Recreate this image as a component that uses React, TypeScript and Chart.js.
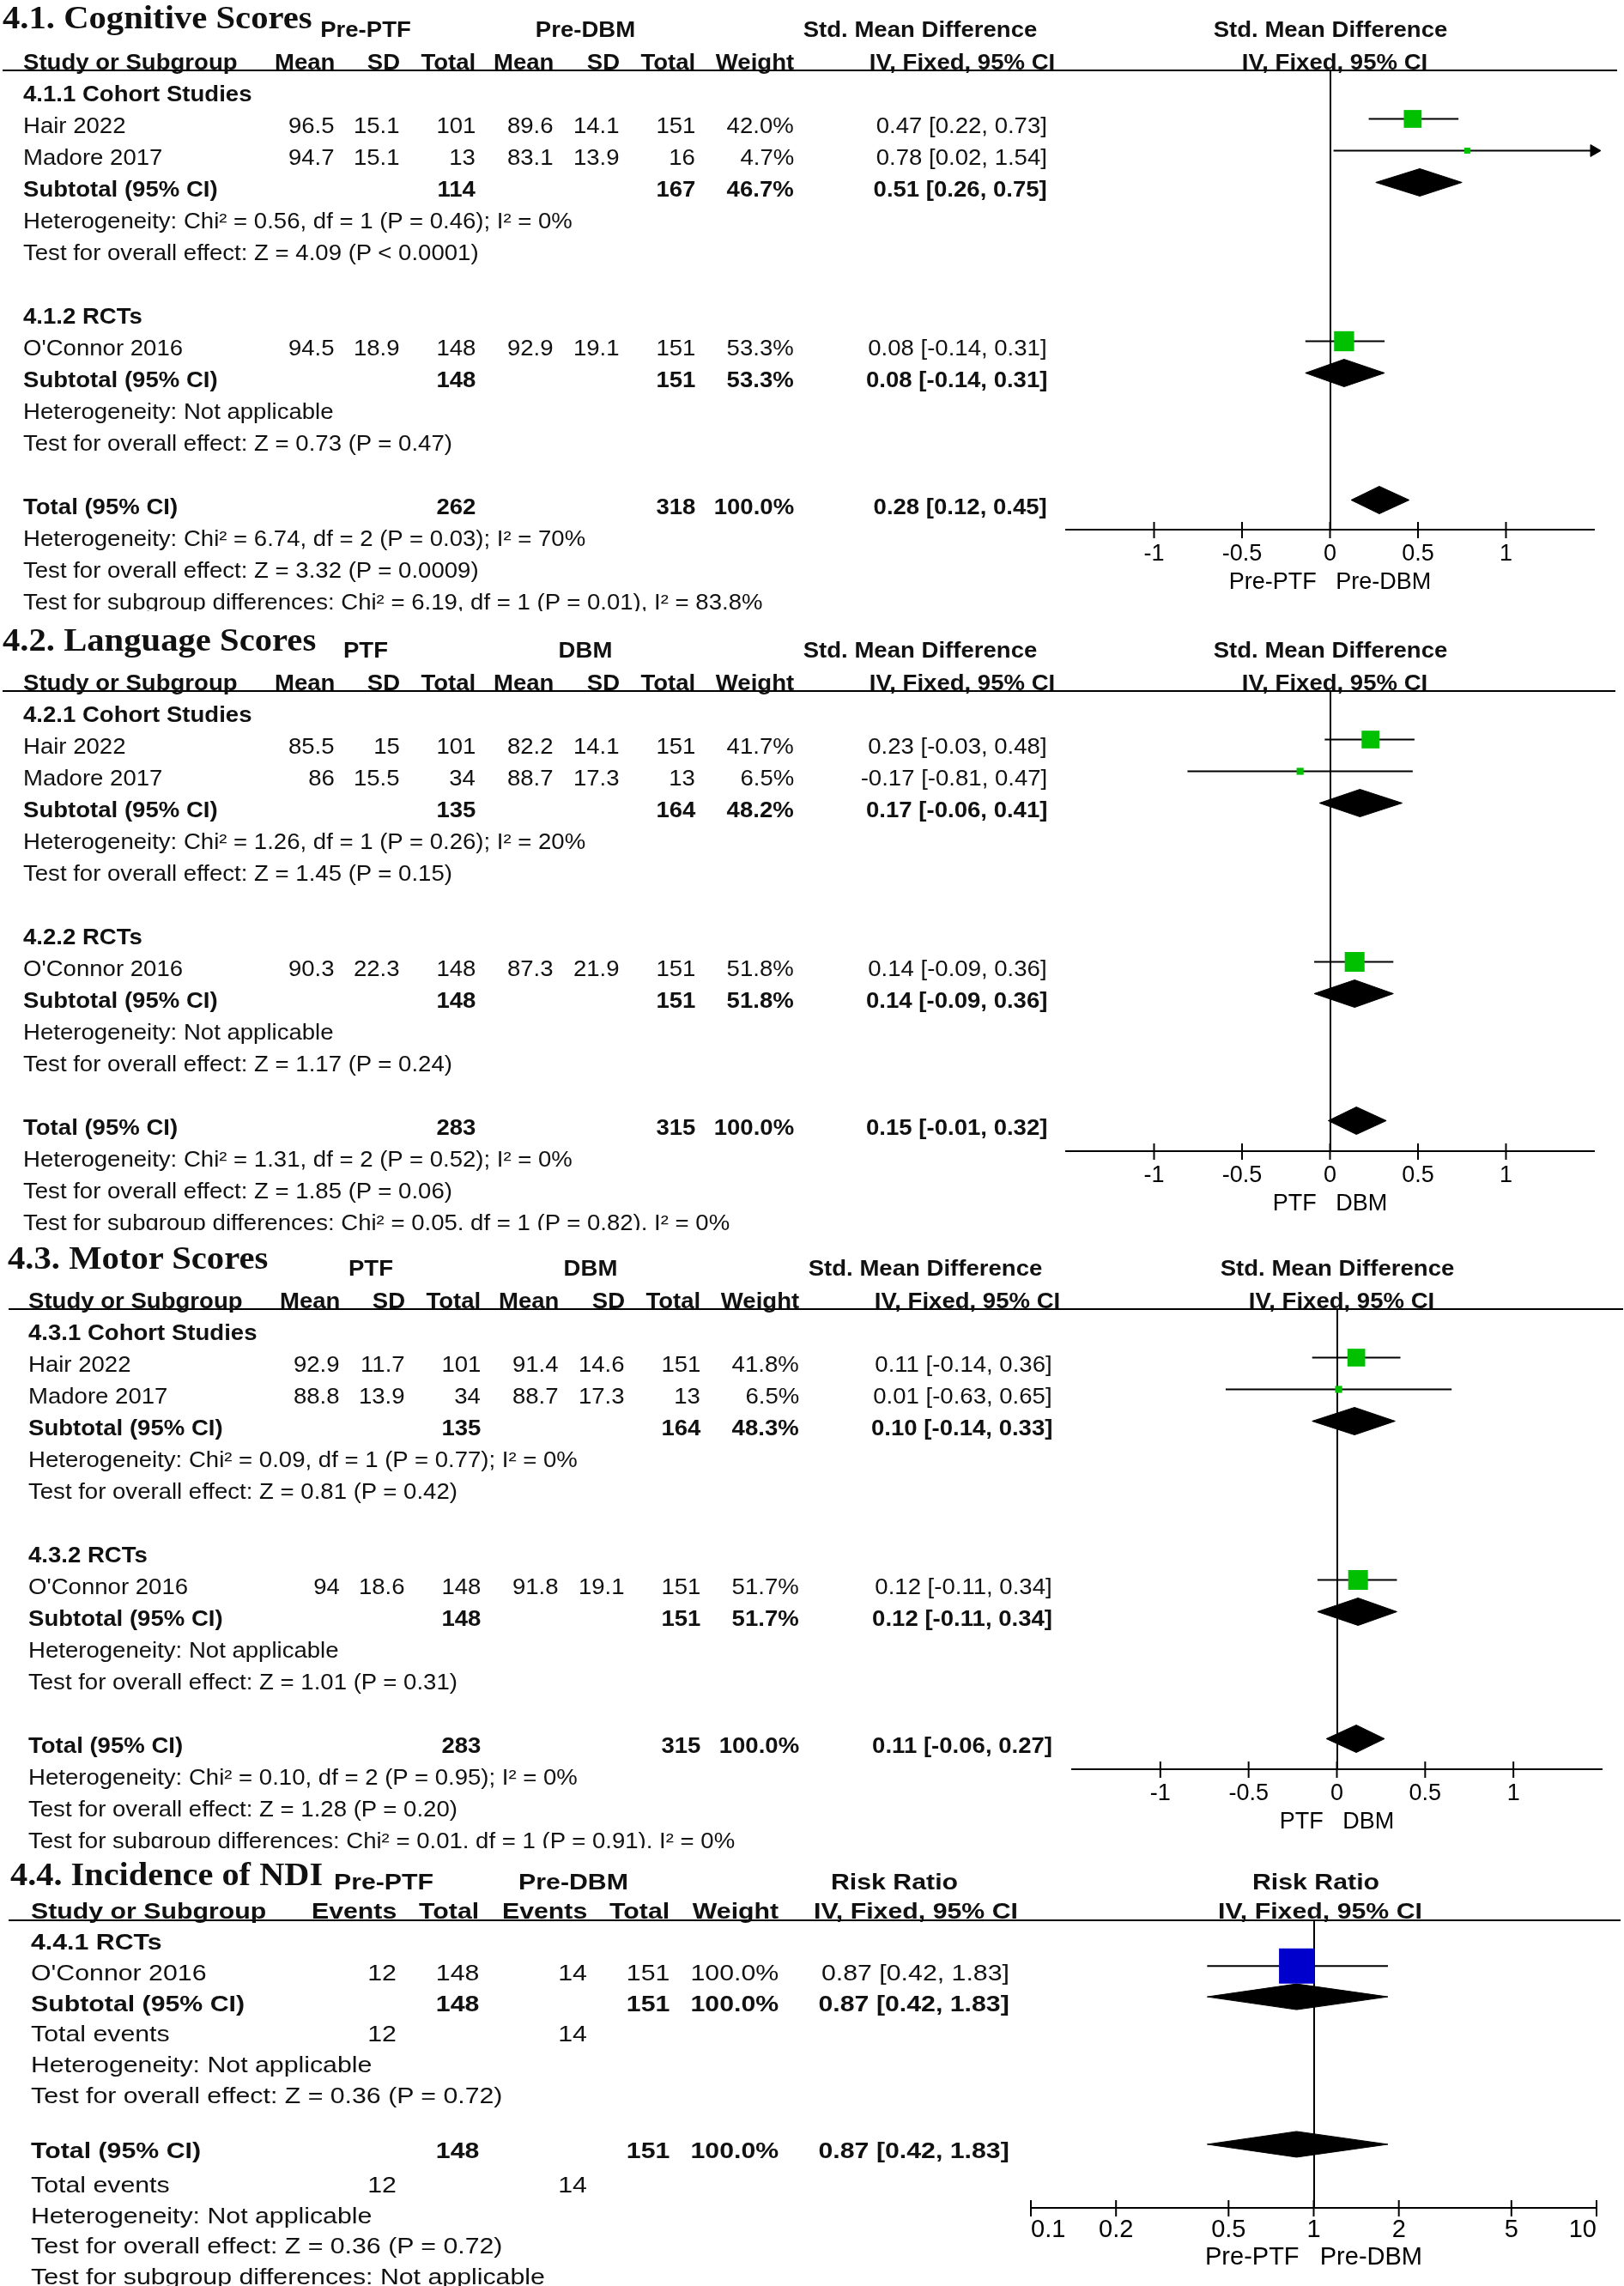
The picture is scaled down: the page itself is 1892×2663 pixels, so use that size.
import React, { useEffect, useRef } from "react";
import { Chart, registerables } from "chart.js";

Chart.register(...registerables);

const PAGE_W = 1892;
const PAGE_H = 2663;
const SANS = '"Liberation Sans", Arial, Helvetica, sans-serif';
const SERIF = '"Liberation Serif", "Times New Roman", Times, serif';
const INK = "#111111";
const GREEN = "#00C000";
const BLUE = "#0000CC";

// ---------------- axis ticks ----------------
const SMD_TICKS = [-1, -0.5, 0, 0.5, 1];
const SMD_RANGE = [-1.5, 1.5];
const RR_TICKS = [0.1, 0.2, 0.5, 1, 2, 5, 10];
const RR_RANGE = [0.1, 10];

// ---------------- 4.1 Cognitive Scores ----------------
const COG_STUDIES = ["Hair 2022", "Madore 2017", "O'Connor 2016"];
const COG_PTF_MEAN = [96.5, 94.7, 94.5];
const COG_PTF_SD = [15.1, 15.1, 18.9];
const COG_PTF_TOTAL = [101, 13, 148];
const COG_DBM_MEAN = [89.6, 83.1, 92.9];
const COG_DBM_SD = [14.1, 13.9, 19.1];
const COG_DBM_TOTAL = [151, 16, 151];
const COG_WEIGHT = [42.0, 4.7, 53.3];
const COG_SMD = [0.47, 0.78, 0.08];
const COG_LOW = [0.22, 0.02, -0.14];
const COG_HIGH = [0.73, 1.54, 0.31];
const COG_SUB_PTF = [114, 148];
const COG_SUB_DBM = [167, 151];
const COG_SUB_WEIGHT = [46.7, 53.3];
const COG_SUB_SMD = [0.51, 0.08];
const COG_SUB_LOW = [0.26, -0.14];
const COG_SUB_HIGH = [0.75, 0.31];
const COG_TOTAL_N = [262, 318];
const COG_TOTAL_WEIGHT = 100.0;
const COG_TOTAL_SMD = [0.28, 0.12, 0.45];
const COG_HET = [
  "Heterogeneity: Chi² = 0.56, df = 1 (P = 0.46); I² = 0%",
  "Heterogeneity: Not applicable",
  "Heterogeneity: Chi² = 6.74, df = 2 (P = 0.03); I² = 70%",
];
const COG_TEST = [
  "Test for overall effect: Z = 4.09 (P < 0.0001)",
  "Test for overall effect: Z = 0.73 (P = 0.47)",
  "Test for overall effect: Z = 3.32 (P = 0.0009)",
];
const COG_SUBGROUP = "Test for subgroup differences: Chi² = 6.19, df = 1 (P = 0.01), I² = 83.8%";

// ---------------- 4.2 Language Scores ----------------
const LANG_STUDIES = ["Hair 2022", "Madore 2017", "O'Connor 2016"];
const LANG_PTF_MEAN = [85.5, 86, 90.3];
const LANG_PTF_SD = [15, 15.5, 22.3];
const LANG_PTF_TOTAL = [101, 34, 148];
const LANG_DBM_MEAN = [82.2, 88.7, 87.3];
const LANG_DBM_SD = [14.1, 17.3, 21.9];
const LANG_DBM_TOTAL = [151, 13, 151];
const LANG_WEIGHT = [41.7, 6.5, 51.8];
const LANG_SMD = [0.23, -0.17, 0.14];
const LANG_LOW = [-0.03, -0.81, -0.09];
const LANG_HIGH = [0.48, 0.47, 0.36];
const LANG_SUB_PTF = [135, 148];
const LANG_SUB_DBM = [164, 151];
const LANG_SUB_WEIGHT = [48.2, 51.8];
const LANG_SUB_SMD = [0.17, 0.14];
const LANG_SUB_LOW = [-0.06, -0.09];
const LANG_SUB_HIGH = [0.41, 0.36];
const LANG_TOTAL_N = [283, 315];
const LANG_TOTAL_WEIGHT = 100.0;
const LANG_TOTAL_SMD = [0.15, -0.01, 0.32];
const LANG_HET = [
  "Heterogeneity: Chi² = 1.26, df = 1 (P = 0.26); I² = 20%",
  "Heterogeneity: Not applicable",
  "Heterogeneity: Chi² = 1.31, df = 2 (P = 0.52); I² = 0%",
];
const LANG_TEST = [
  "Test for overall effect: Z = 1.45 (P = 0.15)",
  "Test for overall effect: Z = 1.17 (P = 0.24)",
  "Test for overall effect: Z = 1.85 (P = 0.06)",
];
const LANG_SUBGROUP = "Test for subgroup differences: Chi² = 0.05, df = 1 (P = 0.82), I² = 0%";

// ---------------- 4.3 Motor Scores ----------------
const MOT_STUDIES = ["Hair 2022", "Madore 2017", "O'Connor 2016"];
const MOT_PTF_MEAN = [92.9, 88.8, 94];
const MOT_PTF_SD = [11.7, 13.9, 18.6];
const MOT_PTF_TOTAL = [101, 34, 148];
const MOT_DBM_MEAN = [91.4, 88.7, 91.8];
const MOT_DBM_SD = [14.6, 17.3, 19.1];
const MOT_DBM_TOTAL = [151, 13, 151];
const MOT_WEIGHT = [41.8, 6.5, 51.7];
const MOT_SMD = [0.11, 0.01, 0.12];
const MOT_LOW = [-0.14, -0.63, -0.11];
const MOT_HIGH = [0.36, 0.65, 0.34];
const MOT_SUB_PTF = [135, 148];
const MOT_SUB_DBM = [164, 151];
const MOT_SUB_WEIGHT = [48.3, 51.7];
const MOT_SUB_SMD = [0.10, 0.12];
const MOT_SUB_LOW = [-0.14, -0.11];
const MOT_SUB_HIGH = [0.33, 0.34];
const MOT_TOTAL_N = [283, 315];
const MOT_TOTAL_WEIGHT = 100.0;
const MOT_TOTAL_SMD = [0.11, -0.06, 0.27];
const MOT_HET = [
  "Heterogeneity: Chi² = 0.09, df = 1 (P = 0.77); I² = 0%",
  "Heterogeneity: Not applicable",
  "Heterogeneity: Chi² = 0.10, df = 2 (P = 0.95); I² = 0%",
];
const MOT_TEST = [
  "Test for overall effect: Z = 0.81 (P = 0.42)",
  "Test for overall effect: Z = 1.01 (P = 0.31)",
  "Test for overall effect: Z = 1.28 (P = 0.20)",
];
const MOT_SUBGROUP = "Test for subgroup differences: Chi² = 0.01, df = 1 (P = 0.91), I² = 0%";

// ---------------- 4.4 Incidence of NDI ----------------
const NDI_STUDIES = ["O'Connor 2016"];
const NDI_PTF_EVENTS = [12];
const NDI_PTF_TOTAL = [148];
const NDI_DBM_EVENTS = [14];
const NDI_DBM_TOTAL = [151];
const NDI_WEIGHT = [100.0];
const NDI_RR = [0.87];
const NDI_LOW = [0.42];
const NDI_HIGH = [1.83];
const NDI_SUB_N = [148, 151];
const NDI_SUB_EVENTS = [12, 14];
const NDI_SUB_WEIGHT = 100.0;
const NDI_SUB_RR = [0.87, 0.42, 1.83];
const NDI_TOTAL_N = [148, 151];
const NDI_TOTAL_EVENTS = [12, 14];
const NDI_TOTAL_WEIGHT = 100.0;
const NDI_TOTAL_RR = [0.87, 0.42, 1.83];
const NDI_HET = ["Heterogeneity: Not applicable", "Heterogeneity: Not applicable"];
const NDI_TEST = [
  "Test for overall effect: Z = 0.36 (P = 0.72)",
  "Test for overall effect: Z = 0.36 (P = 0.72)",
];
const NDI_SUBGROUP = "Test for subgroup differences: Not applicable";

// ---------------- row layout (slot indices) ----------------
const SMD_SECTION_ROWS = [0, 7];
const SMD_STUDY_ROWS = [1, 2, 8];
const SMD_SUB_ROWS = [3, 9];
const SMD_HET_ROWS = [4, 10, 14];
const SMD_TEST_ROWS = [5, 11, 15];
const SMD_TOTAL_ROW = 13;
const SMD_SUBGROUP_ROW = 16;

const RR_SECTION_ROW = 0;
const RR_STUDY_ROWS = [1];
const RR_SUB_ROW = 2;
const RR_EVENTS_ROWS = [3, 7.9];
const RR_HET_ROWS = [4, 8.9];
const RR_TEST_ROWS = [5, 9.9];
const RR_TOTAL_ROW = 6.8;
const RR_SUBGROUP_ROW = 10.9;

// column x positions
const SMD_COLS = { name: 27, m1: 390, sd1: 466, n1: 554, m2: 645, sd2: 722, n2: 810, w: 925, ci: 1220, ciHead: 1121, gA: 426, gB: 682, gEff: 1072 };
const RR_COLS = { name: 36, ev1: 462, n1: 558, ev2: 684, n2: 780, w: 907, ci: 1176, ciHead: 1067, gA: 447, gB: 668, gEff: 1042 };

type Align = "left" | "right" | "center";
interface TextItem { x: number; y: number; text: string; align: Align; bold?: boolean; size: number; sx?: number; serif?: boolean }

interface Layout {
  origin: number; clipTop: number; clipBottom: number; dx: number;
  titleY: number; groupY: number; headY: number; lineY: number; lineX0: number; lineX1: number;
  textY0: number; rowH: number; markY0: number;
  chartLeft: number; chartRight: number; chartTop: number; chartBottom: number; canvasH: number;
  font: number; sx: number;
}

const smdLayout = (origin: number, clipTop: number, clipBottom: number, dx: number, titleY: number, chartBottom: number, lineX0: number, lineX1: number): Layout => ({
  origin, clipTop, clipBottom, dx, titleY, groupY: 37, headY: 75, lineY: 85, lineX0, lineX1,
  textY0: 112, rowH: 37, markY0: 104.5,
  chartLeft: 1242 + (dx > 0 ? 7 : 0), chartRight: 1857 + (dx > 0 ? 9 : 0), chartTop: 85, chartBottom, canvasH: 720,
  font: 26, sx: 1.06,
});

const L1 = smdLayout(-3, 0, 712, 0, 22.5, 620, 3, 1884);
const L2 = smdLayout(720, 712, 1433, 0, 25, 621, 3, 1882);
const L3 = smdLayout(1440, 1433, 2153, 6, 25, 621, 10, 1891);
const L4: Layout = {
  origin: 2150, clipTop: 2153, clipBottom: PAGE_H, dx: 0,
  titleY: 33, groupY: 42, headY: 76, lineY: 87, lineX0: 10, lineX1: 1888,
  textY0: 112, rowH: 35.8, markY0: 104.5,
  chartLeft: 1201, chartRight: 1860, chartTop: 87, chartBottom: 422, canvasH: 513,
  font: 26, sx: 1.165,
};

const f2 = (v: number) => v.toFixed(2);
const ciText = (e: number, l: number, h: number) => `${f2(e)} [${f2(l)}, ${f2(h)}]`;
const pct = (w: number) => `${w.toFixed(1)}%`;

interface SmdData {
  title: string; groupA: string; groupB: string; axisTitle: string; sections: string[];
  studies: string[]; m1: number[]; sd1: number[]; n1: number[]; m2: number[]; sd2: number[]; n2: number[];
  w: number[]; est: number[]; low: number[]; high: number[];
  subN1: number[]; subN2: number[]; subW: number[]; subEst: number[]; subLow: number[]; subHigh: number[];
  totN: number[]; totW: number; tot: number[]; het: string[]; test: string[]; subgroup: string;
}

const COG: SmdData = {
  title: "4.1. Cognitive Scores", groupA: "Pre-PTF", groupB: "Pre-DBM", axisTitle: "Pre-PTF   Pre-DBM",
  sections: ["4.1.1 Cohort Studies", "4.1.2 RCTs"],
  studies: COG_STUDIES, m1: COG_PTF_MEAN, sd1: COG_PTF_SD, n1: COG_PTF_TOTAL, m2: COG_DBM_MEAN, sd2: COG_DBM_SD, n2: COG_DBM_TOTAL,
  w: COG_WEIGHT, est: COG_SMD, low: COG_LOW, high: COG_HIGH,
  subN1: COG_SUB_PTF, subN2: COG_SUB_DBM, subW: COG_SUB_WEIGHT, subEst: COG_SUB_SMD, subLow: COG_SUB_LOW, subHigh: COG_SUB_HIGH,
  totN: COG_TOTAL_N, totW: COG_TOTAL_WEIGHT, tot: COG_TOTAL_SMD, het: COG_HET, test: COG_TEST, subgroup: COG_SUBGROUP,
};
const LANG: SmdData = {
  title: "4.2. Language Scores", groupA: "PTF", groupB: "DBM", axisTitle: "PTF   DBM",
  sections: ["4.2.1 Cohort Studies", "4.2.2 RCTs"],
  studies: LANG_STUDIES, m1: LANG_PTF_MEAN, sd1: LANG_PTF_SD, n1: LANG_PTF_TOTAL, m2: LANG_DBM_MEAN, sd2: LANG_DBM_SD, n2: LANG_DBM_TOTAL,
  w: LANG_WEIGHT, est: LANG_SMD, low: LANG_LOW, high: LANG_HIGH,
  subN1: LANG_SUB_PTF, subN2: LANG_SUB_DBM, subW: LANG_SUB_WEIGHT, subEst: LANG_SUB_SMD, subLow: LANG_SUB_LOW, subHigh: LANG_SUB_HIGH,
  totN: LANG_TOTAL_N, totW: LANG_TOTAL_WEIGHT, tot: LANG_TOTAL_SMD, het: LANG_HET, test: LANG_TEST, subgroup: LANG_SUBGROUP,
};
const MOT: SmdData = {
  title: "4.3. Motor Scores", groupA: "PTF", groupB: "DBM", axisTitle: "PTF   DBM",
  sections: ["4.3.1 Cohort Studies", "4.3.2 RCTs"],
  studies: MOT_STUDIES, m1: MOT_PTF_MEAN, sd1: MOT_PTF_SD, n1: MOT_PTF_TOTAL, m2: MOT_DBM_MEAN, sd2: MOT_DBM_SD, n2: MOT_DBM_TOTAL,
  w: MOT_WEIGHT, est: MOT_SMD, low: MOT_LOW, high: MOT_HIGH,
  subN1: MOT_SUB_PTF, subN2: MOT_SUB_DBM, subW: MOT_SUB_WEIGHT, subEst: MOT_SUB_SMD, subLow: MOT_SUB_LOW, subHigh: MOT_SUB_HIGH,
  totN: MOT_TOTAL_N, totW: MOT_TOTAL_WEIGHT, tot: MOT_TOTAL_SMD, het: MOT_HET, test: MOT_TEST, subgroup: MOT_SUBGROUP,
};

function smdTexts(d: SmdData, L: Layout): TextItem[] {
  const C = SMD_COLS;
  const out: TextItem[] = [];
  const y = (s: number) => L.textY0 + s * L.rowH;
  const put = (x: number, yy: number, text: string, align: Align, bold = false, size = L.font) =>
    out.push({ x: x + L.dx, y: yy, text, align, bold, size, sx: L.sx });
  const pc = (L.chartLeft + L.chartRight) / 2;
  out.push({ x: 3 + L.dx, y: L.titleY, text: d.title, align: "left", bold: true, size: 38, sx: 1.07, serif: true });
  put(C.gA, L.groupY, d.groupA, "center", true);
  put(C.gB, L.groupY, d.groupB, "center", true);
  put(C.gEff, L.groupY, "Std. Mean Difference", "center", true, 26);
  out.push({ x: pc, y: L.groupY, text: "Std. Mean Difference", align: "center", bold: true, size: 26, sx: L.sx });
  put(C.name, L.headY, "Study or Subgroup", "left", true);
  put(C.m1, L.headY, "Mean", "right", true);
  put(C.sd1, L.headY, "SD", "right", true);
  put(C.n1, L.headY, "Total", "right", true);
  put(C.m2, L.headY, "Mean", "right", true);
  put(C.sd2, L.headY, "SD", "right", true);
  put(C.n2, L.headY, "Total", "right", true);
  put(C.w, L.headY, "Weight", "right", true);
  put(C.ciHead, L.headY, "IV, Fixed, 95% CI", "center", true, 26);
  out.push({ x: pc + 5, y: L.headY, text: "IV, Fixed, 95% CI", align: "center", bold: true, size: 26, sx: L.sx });

  SMD_SECTION_ROWS.forEach((s, g) => put(C.name, y(s), d.sections[g], "left", true));
  d.studies.forEach((name, i) => {
    const yy = y(SMD_STUDY_ROWS[i]);
    put(C.name, yy, name, "left");
    put(C.m1, yy, String(d.m1[i]), "right");
    put(C.sd1, yy, String(d.sd1[i]), "right");
    put(C.n1, yy, String(d.n1[i]), "right");
    put(C.m2, yy, String(d.m2[i]), "right");
    put(C.sd2, yy, String(d.sd2[i]), "right");
    put(C.n2, yy, String(d.n2[i]), "right");
    put(C.w, yy, pct(d.w[i]), "right");
    put(C.ci, yy, ciText(d.est[i], d.low[i], d.high[i]), "right");
  });
  SMD_SUB_ROWS.forEach((s, g) => {
    const yy = y(s);
    put(C.name, yy, "Subtotal (95% CI)", "left", true);
    put(C.n1, yy, String(d.subN1[g]), "right", true);
    put(C.n2, yy, String(d.subN2[g]), "right", true);
    put(C.w, yy, pct(d.subW[g]), "right", true);
    put(C.ci, yy, ciText(d.subEst[g], d.subLow[g], d.subHigh[g]), "right", true);
  });
  const ty = y(SMD_TOTAL_ROW);
  put(C.name, ty, "Total (95% CI)", "left", true);
  put(C.n1, ty, String(d.totN[0]), "right", true);
  put(C.n2, ty, String(d.totN[1]), "right", true);
  put(C.w, ty, pct(d.totW), "right", true);
  put(C.ci, ty, ciText(d.tot[0], d.tot[1], d.tot[2]), "right", true);
  SMD_HET_ROWS.forEach((s, k) => put(C.name, y(s), d.het[k], "left"));
  SMD_TEST_ROWS.forEach((s, k) => put(C.name, y(s), d.test[k], "left"));
  put(C.name, y(SMD_SUBGROUP_ROW), d.subgroup, "left");
  return out;
}

function rrTexts(L: Layout): TextItem[] {
  const C = RR_COLS;
  const out: TextItem[] = [];
  const y = (s: number) => L.textY0 + s * L.rowH;
  const put = (x: number, yy: number, text: string, align: Align, bold = false, size = L.font) =>
    out.push({ x, y: yy, text, align, bold, size, sx: L.sx });
  const pc = (L.chartLeft + L.chartRight) / 2;
  out.push({ x: 12, y: L.titleY, text: "4.4. Incidence of NDI", align: "left", bold: true, size: 37, sx: 1.09, serif: true });
  put(C.gA, L.groupY, "Pre-PTF", "center", true);
  put(C.gB, L.groupY, "Pre-DBM", "center", true);
  put(C.gEff, L.groupY, "Risk Ratio", "center", true);
  put(pc + 2, L.groupY, "Risk Ratio", "center", true);
  put(C.name, L.headY, "Study or Subgroup", "left", true);
  put(C.ev1, L.headY, "Events", "right", true);
  put(C.n1, L.headY, "Total", "right", true);
  put(C.ev2, L.headY, "Events", "right", true);
  put(C.n2, L.headY, "Total", "right", true);
  put(C.w, L.headY, "Weight", "right", true);
  put(C.ciHead, L.headY, "IV, Fixed, 95% CI", "center", true, 26);
  put(pc + 7, L.headY, "IV, Fixed, 95% CI", "center", true, 26);

  put(C.name, y(RR_SECTION_ROW), "4.4.1 RCTs", "left", true);
  NDI_STUDIES.forEach((name, i) => {
    const yy = y(RR_STUDY_ROWS[i]);
    put(C.name, yy, name, "left");
    put(C.ev1, yy, String(NDI_PTF_EVENTS[i]), "right");
    put(C.n1, yy, String(NDI_PTF_TOTAL[i]), "right");
    put(C.ev2, yy, String(NDI_DBM_EVENTS[i]), "right");
    put(C.n2, yy, String(NDI_DBM_TOTAL[i]), "right");
    put(C.w, yy, pct(NDI_WEIGHT[i]), "right");
    put(C.ci, yy, ciText(NDI_RR[i], NDI_LOW[i], NDI_HIGH[i]), "right");
  });
  const sy = y(RR_SUB_ROW);
  put(C.name, sy, "Subtotal (95% CI)", "left", true);
  put(C.n1, sy, String(NDI_SUB_N[0]), "right", true);
  put(C.n2, sy, String(NDI_SUB_N[1]), "right", true);
  put(C.w, sy, pct(NDI_SUB_WEIGHT), "right", true);
  put(C.ci, sy, ciText(NDI_SUB_RR[0], NDI_SUB_RR[1], NDI_SUB_RR[2]), "right", true);
  const evs = [NDI_SUB_EVENTS, NDI_TOTAL_EVENTS];
  RR_EVENTS_ROWS.forEach((s, k) => {
    const yy = y(s);
    put(C.name, yy, "Total events", "left");
    put(C.ev1, yy, String(evs[k][0]), "right");
    put(C.ev2, yy, String(evs[k][1]), "right");
  });
  const ty = y(RR_TOTAL_ROW);
  put(C.name, ty, "Total (95% CI)", "left", true);
  put(C.n1, ty, String(NDI_TOTAL_N[0]), "right", true);
  put(C.n2, ty, String(NDI_TOTAL_N[1]), "right", true);
  put(C.w, ty, pct(NDI_TOTAL_WEIGHT), "right", true);
  put(C.ci, ty, ciText(NDI_TOTAL_RR[0], NDI_TOTAL_RR[1], NDI_TOTAL_RR[2]), "right", true);
  RR_HET_ROWS.forEach((s, k) => put(C.name, y(s), NDI_HET[k], "left"));
  RR_TEST_ROWS.forEach((s, k) => put(C.name, y(s), NDI_TEST[k], "left"));
  put(C.name, y(RR_SUBGROUP_ROW), NDI_SUBGROUP, "left");
  return out;
}

interface Mark { y: number; est: number; low: number; high: number; weight?: number; diamond?: boolean }
interface ChartSpec {
  log: boolean; range: number[]; ticks: number[]; ref: number; axisTitle: string; marks: Mark[];
  squareColor: string; squareK: number; diamondHalfPx: number; tickFont: number; tickGap: number; titleGap: number;
  tickAlign: string;
}

const crossTicks = {
  id: "crossTicks",
  afterDraw(chart: any) {
    const sx = chart.scales.x;
    const yb = chart.chartArea.bottom;
    const ctx = chart.ctx;
    ctx.save();
    ctx.strokeStyle = "#000";
    ctx.lineWidth = 2;
    sx.ticks.forEach((_t: any, i: number) => {
      const px = sx.getPixelForTick(i);
      ctx.beginPath();
      ctx.moveTo(px, yb - 9);
      ctx.lineTo(px, yb + 10);
      ctx.stroke();
    });
    ctx.restore();
  },
};

const AX_H = 90;

function buildChart(canvas: HTMLCanvasElement, L: Layout, S: ChartSpec): any {
  const [xmin, xmax] = S.range;
  const yMin = (L.chartTop - L.markY0) / L.rowH;
  const yMax = (L.chartBottom - L.markY0) / L.rowH;
  const dh = S.diamondHalfPx / L.rowH;
  const squares: any[] = [];
  const lines: any[] = [];
  for (const m of S.marks) {
    if (m.diamond) {
      lines.push({
        data: [
          { x: m.low, y: m.y }, { x: m.est, y: m.y - dh }, { x: m.high, y: m.y },
          { x: m.est, y: m.y + dh }, { x: m.low, y: m.y },
        ],
        showLine: true, fill: "shape", backgroundColor: "#000", borderColor: "#000", borderWidth: 1,
        pointRadius: 0, order: 1,
      });
    } else {
      const lo = Math.max(m.low, xmin);
      const hi = Math.min(m.high, xmax);
      lines.push({
        data: [{ x: lo, y: m.y }, { x: hi, y: m.y }],
        showLine: true, fill: false, borderColor: "#000", borderWidth: 2, pointRadius: 0, order: 1,
      });
      if (m.high > xmax) {
        lines.push({
          data: [{ x: xmax, y: m.y }], showLine: false, pointStyle: "triangle", rotation: 90, pointRadius: 8,
          pointBackgroundColor: "#000", pointBorderColor: "#000", pointBorderWidth: 1, clip: false, order: 1,
        });
      }
      if (m.low < xmin) {
        lines.push({
          data: [{ x: xmin, y: m.y }], showLine: false, pointStyle: "triangle", rotation: -90, pointRadius: 8,
          pointBackgroundColor: "#000", pointBorderColor: "#000", pointBorderWidth: 1, clip: false, order: 1,
        });
      }
      const side = S.squareK * Math.sqrt(m.weight || 0);
      squares.push({
        data: [{ x: m.est, y: m.y }], showLine: false, pointStyle: "rect", pointRadius: side / Math.SQRT2,
        pointBackgroundColor: S.squareColor, pointBorderColor: S.squareColor, pointBorderWidth: 0, order: 0,
      });
    }
  }
  const tickLH = S.tickFont * 1.2;
  return new Chart(canvas, {
    type: "scatter",
    data: { datasets: [...squares, ...lines] },
    options: {
      animation: false,
      responsive: true,
      maintainAspectRatio: false,
      devicePixelRatio: 1,
      events: [],
      layout: {
        padding: {
          left: L.chartLeft, right: PAGE_W - L.chartRight, top: L.chartTop,
          bottom: L.canvasH - L.chartBottom - AX_H,
        },
      },
      plugins: { legend: { display: false }, tooltip: { enabled: false }, title: { display: false } },
      scales: {
        x: {
          type: S.log ? "logarithmic" : "linear",
          min: xmin, max: xmax, bounds: "data", offset: false,
          afterBuildTicks: (sc: any) => { sc.ticks = S.ticks.map((v) => ({ value: v })); },
          afterFit: (sc: any) => { sc.height = AX_H; },
          grid: {
            display: true, drawTicks: false, drawOnChartArea: true, lineWidth: 2,
            color: (c: any) => (c.tick && c.tick.value === S.ref ? "#000" : "rgba(0,0,0,0)"),
          },
          border: { display: true, color: "#000", width: 2 },
          ticks: {
            autoSkip: false, maxRotation: 0, minRotation: 0, padding: S.tickGap - tickLH / 2,
            align: S.tickAlign,
            color: "#000", font: { family: SANS, size: S.tickFont },
            callback: (v: any) => String(v),
          },
          title: {
            display: true, text: S.axisTitle, color: "#000", font: { family: SANS, size: S.tickFont },
            padding: { top: 0, bottom: AX_H - tickLH / 2 - S.titleGap },
          },
        },
        y: { type: "linear", reverse: true, min: yMin, max: yMax, bounds: "data", display: false },
      },
    } as any,
    plugins: [crossTicks],
  });
}

function smdMarks(d: SmdData): Mark[] {
  const marks: Mark[] = [];
  d.studies.forEach((_n, i) =>
    marks.push({ y: SMD_STUDY_ROWS[i], est: d.est[i], low: d.low[i], high: d.high[i], weight: d.w[i] }));
  SMD_SUB_ROWS.forEach((s, g) =>
    marks.push({ y: s, est: d.subEst[g], low: d.subLow[g], high: d.subHigh[g], diamond: true }));
  marks.push({ y: SMD_TOTAL_ROW, est: d.tot[0], low: d.tot[1], high: d.tot[2], diamond: true });
  return marks;
}

function smdSpec(d: SmdData): ChartSpec {
  return {
    log: false, range: SMD_RANGE, ticks: SMD_TICKS, ref: 0, axisTitle: d.axisTitle, marks: smdMarks(d),
    squareColor: GREEN, squareK: 3.2, diamondHalfPx: 16, tickFont: 27, tickGap: 29, titleGap: 62,
    tickAlign: "center",
  };
}

function rrSpec(): ChartSpec {
  const marks: Mark[] = [];
  NDI_STUDIES.forEach((_n, i) =>
    marks.push({ y: RR_STUDY_ROWS[i], est: NDI_RR[i], low: NDI_LOW[i], high: NDI_HIGH[i], weight: NDI_WEIGHT[i] }));
  marks.push({ y: RR_SUB_ROW, est: NDI_SUB_RR[0], low: NDI_SUB_RR[1], high: NDI_SUB_RR[2], diamond: true });
  marks.push({ y: RR_TOTAL_ROW, est: NDI_TOTAL_RR[0], low: NDI_TOTAL_RR[1], high: NDI_TOTAL_RR[2], diamond: true });
  return {
    log: true, range: RR_RANGE, ticks: RR_TICKS, ref: 1, axisTitle: "Pre-PTF   Pre-DBM", marks,
    squareColor: BLUE, squareK: 4.1, diamondHalfPx: 15, tickFont: 29, tickGap: 26, titleGap: 58,
    tickAlign: "inner",
  };
}

function Txt({ t }: { t: TextItem }) {
  const sx = t.sx ?? 1;
  const st: React.CSSProperties = {
    position: "absolute", top: t.y - t.size / 2, height: t.size, lineHeight: `${t.size}px`,
    fontSize: `${t.size}px`, fontFamily: t.serif ? SERIF : SANS, fontWeight: t.bold ? 700 : 400,
    color: INK, whiteSpace: "pre", margin: 0, padding: 0,
  };
  if (t.align === "left") {
    st.left = t.x; st.transformOrigin = "left center"; st.transform = `scaleX(${sx})`;
  } else if (t.align === "right") {
    st.right = PAGE_W - t.x; st.transformOrigin = "right center"; st.transform = `scaleX(${sx})`;
  } else {
    st.left = t.x; st.transformOrigin = "center center"; st.transform = `translateX(-50%) scaleX(${sx})`;
  }
  return <div style={st}>{t.text}</div>;
}

function PanelChart({ L, spec }: { L: Layout; spec: ChartSpec }) {
  const ref = useRef<HTMLCanvasElement>(null);
  useEffect(() => {
    if (!ref.current) return;
    const ch = buildChart(ref.current, L, spec);
    return () => ch.destroy();
  }, []);
  return (
    <div style={{ position: "absolute", left: 0, top: 0, width: PAGE_W, height: L.canvasH }}>
      <canvas ref={ref} />
    </div>
  );
}

function Panel({ L, texts, spec }: { L: Layout; texts: TextItem[]; spec: ChartSpec }) {
  return (
    <div style={{ position: "absolute", left: 0, top: L.clipTop, width: PAGE_W, height: L.clipBottom - L.clipTop, overflow: "hidden" }}>
      <div style={{ position: "absolute", left: 0, top: L.origin - L.clipTop, width: PAGE_W, height: L.canvasH }}>
        <PanelChart L={L} spec={spec} />
        <div style={{ position: "absolute", left: L.lineX0, top: L.lineY - 1, width: L.lineX1 - L.lineX0, height: 2, background: "#000" }} />
        {texts.map((t, i) => <Txt key={i} t={t} />)}
      </div>
    </div>
  );
}

export default function App() {
  return (
    <div style={{ position: "absolute", left: 0, top: 0, width: PAGE_W, height: PAGE_H, background: "#fff", overflow: "hidden" }}>
      <Panel L={L1} texts={smdTexts(COG, L1)} spec={smdSpec(COG)} />
      <Panel L={L2} texts={smdTexts(LANG, L2)} spec={smdSpec(LANG)} />
      <Panel L={L3} texts={smdTexts(MOT, L3)} spec={smdSpec(MOT)} />
      <Panel L={L4} texts={rrTexts(L4)} spec={rrSpec()} />
    </div>
  );
}
